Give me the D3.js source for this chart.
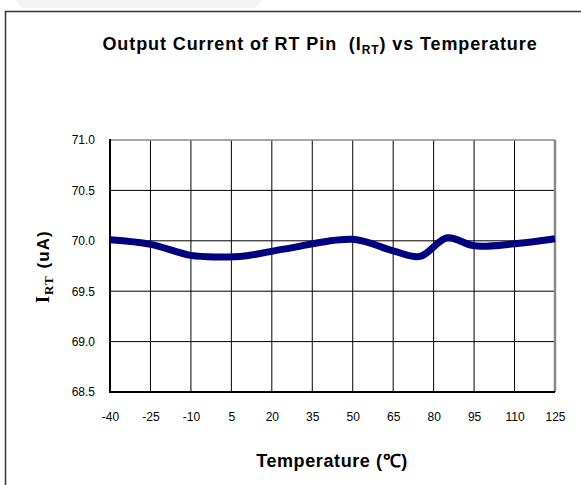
<!DOCTYPE html>
<html><head><meta charset="utf-8">
<script src="https://cdn.jsdelivr.net/npm/d3@7"></script>
<style>body{margin:0;background:#fff}svg{display:block}</style>
</head><body>
<script>
const temps = [-40, -25, -10, 0, 10, 25, 50, 65, 75, 85, 95, 110, 125];
const current = [70.01, 69.965, 69.855, 69.84, 69.85, 69.92, 70.015, 69.90, 69.845, 70.03, 69.95, 69.97, 70.02];
const xTicks = [-40, -25, -10, 5, 20, 35, 50, 65, 80, 95, 110, 125];
const yTicks = [68.5, 69.0, 69.5, 70.0, 70.5, 71.0];

const W = 581, H = 485;
const svg = d3.select("body").append("svg").attr("width", W).attr("height", H);
const font = "'Liberation Sans', Arial, sans-serif";

// faint shape top-left
svg.append("path").attr("d", "M15,0 L262,0 L255,8 L22,8 Z").attr("fill", "#f3f3f3");
// outer frame
svg.append("path").attr("d", `M5.5,${H+2} L5.5,11.5 L${W+2},11.5`).attr("fill", "none").attr("stroke", "#333").attr("stroke-width", 1.5);

const L = 110, R = 555, T = 140, B = 392;
const x = d3.scaleLinear().domain([-40, 125]).range([L, R]);
const y = d3.scaleLinear().domain([68.5, 71.0]).range([B, T]);

// grid
svg.append("g").selectAll("line").data(xTicks.slice(1, -1)).join("line")
  .attr("x1", d => x(d)).attr("x2", d => x(d)).attr("y1", T).attr("y2", B)
  .attr("stroke", "#000").attr("stroke-width", 1);
svg.append("g").selectAll("line").data(yTicks.slice(1, -1)).join("line")
  .attr("x1", L).attr("x2", R).attr("y1", d => y(d)).attr("y2", d => y(d))
  .attr("stroke", "#000").attr("stroke-width", 1);
// borders
svg.append("line").attr("x1", L).attr("x2", R).attr("y1", T).attr("y2", T).attr("stroke", "#888").attr("stroke-width", 1.5);
svg.append("line").attr("x1", R).attr("x2", R).attr("y1", T).attr("y2", B).attr("stroke", "#888").attr("stroke-width", 2.5);
svg.append("line").attr("x1", L).attr("x2", L).attr("y1", T - 1).attr("y2", B + 1).attr("stroke", "#000").attr("stroke-width", 2);
svg.append("line").attr("x1", L - 1).attr("x2", R).attr("y1", B).attr("y2", B).attr("stroke", "#000").attr("stroke-width", 2);

// axes labels via d3 axes (no lines)
const xAxis = svg.append("g").attr("transform", `translate(0,${B})`)
  .call(d3.axisBottom(x).tickValues(xTicks).tickSize(0).tickPadding(20).tickFormat(d => String(d)));
xAxis.select(".domain").remove();
xAxis.selectAll("text").attr("font-family", font).attr("font-size", 12).attr("fill", "#000");

const yAxis = svg.append("g").attr("transform", `translate(${L},0)`)
  .call(d3.axisLeft(y).tickValues(yTicks).tickSize(0).tickPadding(15).tickFormat(d3.format(".1f")));
yAxis.select(".domain").remove();
yAxis.selectAll("text").attr("font-family", font).attr("font-size", 12).attr("fill", "#000");

// curve
const line = d3.line().x((d, i) => x(temps[i])).y(d => y(d)).curve(d3.curveCatmullRom.alpha(0.5));
svg.append("path").datum(current).attr("d", line)
  .attr("fill", "none").attr("stroke", "#000080").attr("stroke-width", 7).attr("stroke-linecap", "butt");

// title
const title = svg.append("text").attr("x", 320).attr("y", 50).attr("text-anchor", "middle")
  .attr("font-family", font).attr("font-weight", "bold").attr("font-size", 18).attr("fill", "#000")
  .attr("letter-spacing", 0.9).style("white-space", "pre");
title.append("tspan").text("Output Current of RT Pin  (I");
title.append("tspan").text("RT").attr("font-size", 12).attr("dy", 4);
title.append("tspan").text(") vs Temperature").attr("dy", -4);

// x title
svg.append("text").attr("x", 332).attr("y", 467).attr("text-anchor", "middle")
  .attr("font-family", font).attr("font-weight", "bold").attr("font-size", 18).attr("fill", "#000")
  .attr("letter-spacing", 0.6)
  .text("Temperature (℃)");

// y title
const yt = svg.append("text").attr("transform", "translate(49,303) rotate(-90)")
  .attr("font-weight", "bold").attr("fill", "#000");
yt.append("tspan").text("I").attr("font-family", "'Liberation Serif', 'Times New Roman', serif").attr("font-size", 18);
yt.append("tspan").text("RT").attr("font-family", "'Liberation Serif', 'Times New Roman', serif").attr("font-size", 13).attr("dy", 4).attr("dx", 1).attr("letter-spacing", 1);
yt.append("tspan").text("(uA)").attr("font-family", font).attr("font-size", 17).attr("dy", -4).attr("dx", 7).attr("letter-spacing", 1);
</script>
</body></html>
